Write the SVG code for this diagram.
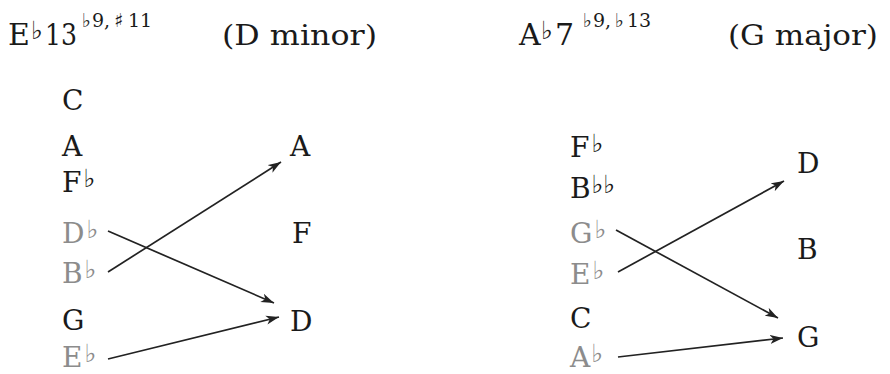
<svg xmlns="http://www.w3.org/2000/svg" width="890" height="374" viewBox="0 0 890 374">
<defs>
<style>
text{font-family:"DejaVu Serif","Liberation Serif",serif;font-size:28px;fill:#1a1a1a}
.g{fill:#8c8c8c}
.acc{font-family:"DejaVu Sans","Noto Sans",sans-serif;font-size:25px}
.sacc{font-family:"DejaVu Sans","Noto Sans",sans-serif;font-size:19px}
.sup{font-size:19px}
.arr{stroke:#222;stroke-width:1.7;fill:none;marker-end:url(#ah)}
</style>
<marker id="ah" markerUnits="userSpaceOnUse" markerWidth="14" markerHeight="10" refX="13" refY="5" orient="auto">
<path d="M0,0.5 L13,5 L0,9.5 L3.5,5 z" fill="#222"/>
</marker>
</defs>
<g id="title-left">
<text y="45"><tspan x="8" font-size="30">E</tspan><tspan class="acc" x="31" dy="-6">♭</tspan><tspan x="45" dy="6" font-size="30" textLength="32" lengthAdjust="spacingAndGlyphs">13</tspan><tspan class="sacc" x="82" dy="-18">♭</tspan><tspan class="sup" x="92">9,</tspan><tspan class="sacc" x="114">♯</tspan><tspan class="sup" x="128">11</tspan></text>
<text x="222" y="45" textLength="155" lengthAdjust="spacingAndGlyphs">(D minor)</text>
</g>
<g id="title-right">
<text y="45"><tspan x="519" font-size="30">A</tspan><tspan class="acc" x="541" dy="-6">♭</tspan><tspan x="555" dy="6" font-size="30">7</tspan><tspan class="sacc" x="583" dy="-18">♭</tspan><tspan class="sup" x="593">9,</tspan><tspan class="sacc" x="615">♭</tspan><tspan class="sup" x="627">13</tspan></text>
<text x="728" y="45" textLength="150" lengthAdjust="spacingAndGlyphs">(G major)</text>
</g>
<g id="left-C"><text x="62" y="110">C</text></g>
<g id="left-A"><text x="62" y="156">A</text></g>
<g id="left-Fb"><text x="62" y="192">F<tspan class="acc" dx="2" dy="-5">♭</tspan></text></g>
<g id="left-Db"><text class="g" x="62" y="243">D<tspan class="acc g" dx="2" dy="-5">♭</tspan></text></g>
<g id="left-Bb"><text class="g" x="62" y="283">B<tspan class="acc g" dx="2" dy="-5">♭</tspan></text></g>
<g id="left-G"><text x="62" y="330">G</text></g>
<g id="left-Eb"><text class="g" x="62" y="367">E<tspan class="acc g" dx="2" dy="-5">♭</tspan></text></g>
<g id="dm-A"><text x="290" y="156">A</text></g>
<g id="dm-F"><text x="292" y="243">F</text></g>
<g id="dm-D"><text x="290" y="331">D</text></g>
<g id="right-Fb"><text x="570" y="157">F<tspan class="acc" dx="2" dy="-5">♭</tspan></text></g>
<g id="right-Bbb"><text x="570" y="198">B<tspan class="acc" dx="1" dy="-5">♭♭</tspan></text></g>
<g id="right-Gb"><text class="g" x="570" y="243">G<tspan class="acc g" dx="2" dy="-5">♭</tspan></text></g>
<g id="right-Eb"><text class="g" x="570" y="284">E<tspan class="acc g" dx="2" dy="-5">♭</tspan></text></g>
<g id="right-C"><text x="570" y="328">C</text></g>
<g id="right-Ab"><text class="g" x="570" y="367">A<tspan class="acc g" dx="1" dy="-5">♭</tspan></text></g>
<g id="gm-D"><text x="797" y="173">D</text></g>
<g id="gm-B"><text x="797" y="259">B</text></g>
<g id="gm-G"><text x="797" y="347">G</text></g>
<g id="connectors">
<line class="arr" x1="108" y1="272" x2="281" y2="162"/>
<line class="arr" x1="108" y1="231" x2="274" y2="303"/>
<line class="arr" x1="108" y1="359" x2="279" y2="317"/>
<line class="arr" x1="618" y1="272" x2="784" y2="181"/>
<line class="arr" x1="616" y1="230" x2="778" y2="318"/>
<line class="arr" x1="618" y1="357" x2="783" y2="338"/>
</g>
</svg>
